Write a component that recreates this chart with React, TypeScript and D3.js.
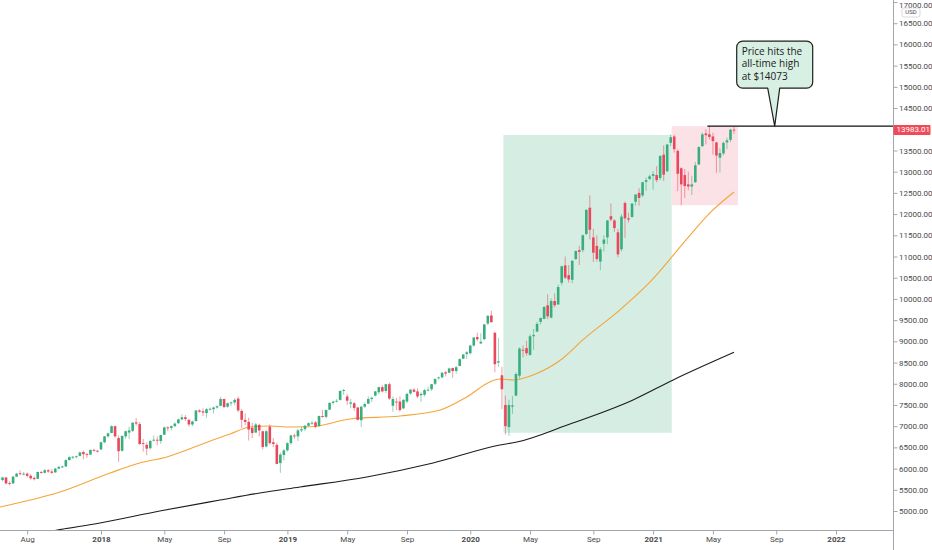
import React, { useEffect, useRef } from 'react';
import * as d3 from 'd3';

// weekly candles [open, high, low, close], first bar is the week of 2017-06-19
const firstWeek = '2017-06-19';

const candles2017 = [
  [5730, 5810, 5700, 5790], [5790, 5800, 5630, 5650], [5660, 5700, 5600, 5640], [5650, 5830, 5640, 5810],
  [5810, 5900, 5800, 5880], [5890, 5960, 5840, 5870], [5870, 5920, 5840, 5880], [5880, 5910, 5790, 5830],
  [5830, 5870, 5740, 5770], [5780, 5820, 5720, 5750], [5760, 5930, 5750, 5920], [5920, 5950, 5880, 5900],
  [5900, 5990, 5890, 5960], [5960, 5990, 5900, 5930], [5930, 5990, 5880, 5900], [5910, 6020, 5900, 6000],
  [6000, 6060, 5990, 6040], [6040, 6070, 6010, 6050], [6050, 6220, 6040, 6200], [6200, 6290, 6190, 6270],
  [6270, 6300, 6220, 6280], [6280, 6310, 6240, 6290], [6300, 6400, 6290, 6380], [6390, 6420, 6220, 6340],
  [6340, 6370, 6250, 6330], [6330, 6450, 6320, 6440], [6440, 6470, 6400, 6420], [6420, 6440, 6380, 6400],
];

const candles2018 = [
  [6450, 6640, 6440, 6620], [6620, 6770, 6600, 6760], [6760, 6850, 6730, 6830], [6840, 7020, 6830, 7000],
  [7000, 7010, 6730, 6760], [6720, 6780, 6160, 6410], [6420, 6780, 6400, 6770], [6760, 6900, 6700, 6880],
  [6850, 6990, 6700, 6900], [6890, 7100, 6860, 7080], [7090, 7190, 7010, 7060], [7050, 7100, 6560, 6580],
  [6600, 6700, 6400, 6580], [6560, 6620, 6310, 6470], [6480, 6680, 6450, 6650], [6660, 6780, 6640, 6680],
  [6680, 6760, 6550, 6660], [6650, 6800, 6580, 6790], [6800, 6990, 6790, 6970], [6970, 7000, 6880, 6950],
  [6960, 7020, 6900, 7000], [7000, 7090, 6980, 7060], [7070, 7180, 7050, 7160], [7160, 7280, 7140, 7210],
  [7210, 7260, 7120, 7170], [7150, 7170, 6990, 7040], [7040, 7130, 7000, 7110], [7120, 7380, 7110, 7370],
  [7370, 7400, 7320, 7340], [7350, 7420, 7240, 7320], [7310, 7420, 7200, 7400], [7400, 7440, 7370, 7410],
  [7400, 7460, 7300, 7440], [7440, 7490, 7410, 7470], [7480, 7690, 7470, 7640], [7640, 7650, 7430, 7450],
  [7460, 7560, 7430, 7540], [7540, 7580, 7480, 7560], [7560, 7660, 7500, 7620], [7650, 7700, 7330, 7370],
  [7360, 7400, 6960, 7150], [7150, 7300, 7020, 7100], [7100, 7200, 6660, 6920], [6960, 7080, 6720, 6840],
  [6850, 7080, 6840, 7040], [7030, 7060, 6760, 6900], [6880, 6900, 6450, 6510], [6520, 6920, 6500, 6880],
  [6990, 7040, 6560, 6600], [6620, 6720, 6500, 6580], [6560, 6610, 6100, 6110], [6130, 6380, 5900, 6330],
  [6320, 6460, 6190, 6430],
];

const candles2019 = [
  [6430, 6620, 6400, 6600], [6600, 6800, 6560, 6780], [6780, 6820, 6700, 6760], [6760, 6940, 6650, 6900],
  [6900, 6990, 6860, 6930], [6930, 7030, 6880, 7010], [7010, 7090, 7000, 7070], [7070, 7120, 7030, 7080],
  [7090, 7120, 6950, 6990], [7000, 7250, 6990, 7240], [7240, 7380, 7200, 7230], [7220, 7390, 7180, 7380],
  [7390, 7560, 7380, 7550], [7550, 7600, 7510, 7580], [7590, 7640, 7560, 7600], [7620, 7840, 7600, 7830],
  [7830, 7880, 7740, 7850], [7700, 7760, 7500, 7600], [7530, 7640, 7420, 7560], [7540, 7570, 7360, 7430],
  [7440, 7450, 7130, 7150], [7140, 7470, 6980, 7460], [7460, 7560, 7430, 7520], [7530, 7700, 7520, 7640],
  [7640, 7690, 7570, 7670], [7720, 7830, 7700, 7820], [7800, 7930, 7750, 7920], [7920, 7970, 7800, 7820],
  [7830, 8000, 7780, 7990], [7990, 8030, 7620, 7650], [7480, 7700, 7340, 7640], [7580, 7670, 7380, 7560],
  [7580, 7700, 7340, 7380], [7420, 7640, 7400, 7620], [7580, 7790, 7540, 7760], [7770, 7880, 7740, 7860],
  [7860, 7900, 7800, 7810], [7820, 7890, 7660, 7700], [7730, 7800, 7570, 7760], [7740, 7880, 7700, 7850],
  [7860, 7930, 7820, 7860], [7870, 7990, 7830, 7990], [8000, 8130, 7970, 8110], [8130, 8170, 8100, 8150],
  [8150, 8270, 8130, 8260], [8270, 8300, 8170, 8240], [8260, 8380, 8250, 8360], [8370, 8380, 8140, 8300],
  [8300, 8420, 8240, 8390], [8420, 8600, 8410, 8580], [8590, 8700, 8580, 8690], [8700, 8770, 8580, 8740],
];

const candles2020 = [
  [8720, 8920, 8690, 8900], [8900, 9100, 8870, 9090], [9100, 9200, 9000, 9050], [8950, 9190, 8940, 8990],
  [9050, 9410, 9030, 9400], [9420, 9620, 9380, 9600], [9610, 9720, 9450, 9450], [9200, 9230, 8270, 8460],
  [8500, 9080, 8400, 8530], [8200, 8400, 7400, 7870], [7500, 7720, 6800, 7000], [6980, 7620, 6770, 7500],
  [7460, 7710, 7290, 7490], [7720, 8270, 7710, 8230], [8190, 8860, 8130, 8830], [8800, 8900, 8620, 8780],
  [8840, 9010, 8660, 8720], [8680, 9170, 8660, 9120], [9120, 9290, 8800, 9150], [9230, 9460, 9220, 9410],
  [9460, 9560, 9400, 9550], [9530, 9830, 9520, 9810], [9850, 10110, 9520, 9590], [9560, 10010, 9540, 9950],
  [9950, 10130, 9800, 9850], [9870, 10340, 9860, 10280], [10380, 10780, 10320, 10770], [10790, 11000, 10470, 10500],
  [10560, 10800, 10380, 10460], [10450, 10910, 10370, 10900], [10940, 11140, 10920, 11130], [11150, 11250, 10800, 11110],
  [11150, 11520, 11100, 11500], [11530, 12110, 11500, 12100], [12150, 12440, 11400, 11630], [11450, 11650, 10870, 11090],
  [11250, 11500, 10880, 10940], [10880, 11220, 10680, 11170], [11300, 11500, 11120, 11400], [11450, 11860, 11290, 11850],
  [11950, 12250, 11830, 11870], [11850, 11880, 11580, 11670], [11570, 11650, 10980, 11050], [11170, 12000, 11120, 11940],
  [12260, 12300, 11440, 11900], [11900, 12030, 11800, 11870], [11930, 12250, 11920, 12250], [12290, 12470, 12200, 12460],
  [12500, 12610, 12200, 12380], [12440, 12760, 12400, 12750], [12760, 12860, 12550, 12800], [12830, 12930, 12800, 12890],
];

const candles2021 = [
  [12900, 13010, 12570, 12940], [12920, 13130, 12750, 12800], [12850, 13390, 12800, 13370], [13400, 13620, 12780, 12930],
  [13010, 13650, 12990, 13640], [13680, 13880, 13600, 13810], [13830, 13870, 13450, 13530], [13490, 13530, 12540, 12950],
  [13080, 13100, 12210, 12700], [12920, 13060, 12380, 12660], [12700, 13000, 12560, 12650], [12650, 12900, 12450, 12700],
  [12750, 13230, 12740, 13150], [13170, 13600, 13160, 13580], [13600, 13920, 13580, 13880], [13900, 14000, 13640, 13860],
  [13880, 14073, 13760, 13820], [13830, 13920, 13400, 13720], [13690, 13700, 12970, 13380], [13330, 13550, 12980, 13440],
  [13430, 13710, 13380, 13680], [13690, 13800, 13530, 13740], [13750, 14010, 13700, 13990], [13990, 14060, 13890, 13983.01],
];

// moving averages [date, price]
const orangeMA = [
  ['2017-06-14', 5094], ['2017-10-11', 5448], ['2018-01-19', 5896], ['2018-03-19', 6132],
  ['2018-05-12', 6274], ['2018-08-12', 6675], ['2018-09-15', 6816], ['2018-10-25', 6981],
  ['2018-12-03', 7005], ['2019-01-12', 6981], ['2019-02-21', 6985], ['2019-05-12', 7170],
  ['2019-08-19', 7241], ['2019-11-07', 7382], ['2019-12-30', 7689], ['2020-02-14', 8042],
  ['2020-03-05', 8113], ['2020-03-31', 8090], ['2020-05-10', 8208], ['2020-07-09', 8608],
  ['2020-08-17', 9033], ['2020-10-30', 9741], ['2020-12-29', 10401], ['2021-03-14', 11439],
  ['2021-04-27', 12028], ['2021-06-14', 12520],
];

const blackMA = [
  ['2017-06-14', 4290], ['2017-10-11', 4560], ['2017-12-30', 4717], ['2018-04-28', 5000],
  ['2018-08-26', 5259], ['2018-11-13', 5425], ['2019-02-01', 5566], ['2019-06-14', 5802],
  ['2019-10-24', 6132], ['2020-03-05', 6557], ['2020-04-08', 6627], ['2020-07-17', 7028],
  ['2020-11-25', 7618], ['2021-02-13', 8090], ['2021-06-14', 8740],
];

// highlighted ranges [startDate, endDate, lowPrice, highPrice]
const rallyBox = ['2020-03-12', '2021-02-10', 6845, 13865];
const rangeBox = ['2021-02-10', '2021-06-22', 12210, 14073];

const athPrice = 14073;
const lastPrice = 13983.01;
const calloutDate = '2021-09-03';
const calloutLines = ['Price hits the', 'all-time high', 'at $14073'];

const priceTicks = [5000, 5500, 6000, 6500, 7000, 7500, 8000, 8500, 9000, 9500, 10000, 10500, 11000,
  11500, 12000, 12500, 13000, 13500, 14500, 15000, 15500, 16000, 16500, 17000];

const timeTicks = [
  ['2017-08-07', 'Aug'], ['2018-01-01', '2018'], ['2018-05-07', 'May'], ['2018-09-03', 'Sep'],
  ['2019-01-07', '2019'], ['2019-05-06', 'May'], ['2019-09-02', 'Sep'], ['2020-01-06', '2020'],
  ['2020-05-04', 'May'], ['2020-09-07', 'Sep'], ['2021-01-04', '2021'], ['2021-05-03', 'May'],
  ['2021-09-06', 'Sep'], ['2022-01-03', '2022'],
];

const W = 932;
const H = 550;
const plotRight = 893;
const plotBottom = 530;
const upColor = '#38ad7d';
const downColor = '#e8485b';
const axisColor = '#a3a6ad';
const labelColor = '#4a4a4a';
const axisFont = 'Roboto, "Liberation Sans", sans-serif';

const App: React.FC = () => {
  const ref = useRef<SVGSVGElement>(null);

  useEffect(() => {
    const svg = d3.select(ref.current);
    svg.selectAll('*').remove();

    const parse = d3.utcParse('%Y-%m-%d');
    const x = d3.scaleUtc()
      .domain([parse('2018-01-01')!, parse('2022-01-03')!])
      .range([101, 836]);
    const y = d3.scaleLinear().domain([5000, 17000]).range([511, 2]);

    const start = parse(firstWeek)!;
    const candles = [...candles2017, ...candles2018, ...candles2019, ...candles2020, ...candles2021]
      .map((c, i) => ({
        date: d3.utcDay.offset(start, i * 7),
        open: c[0], high: c[1], low: c[2], close: c[3]
      }));

    svg.append('rect').attr('width', W).attr('height', H).attr('fill', '#ffffff');

    svg.append('defs').append('clipPath').attr('id', 'plot-area')
      .append('rect').attr('x', 0).attr('y', 0).attr('width', plotRight).attr('height', plotBottom);

    const plot = svg.append('g').attr('clip-path', 'url(#plot-area)');

    // Shaded ranges
    const drawBox = (b: any[], fill: string) => {
      plot.append('rect')
        .attr('x', x(parse(b[0])!))
        .attr('y', y(b[3]))
        .attr('width', x(parse(b[1])!) - x(parse(b[0])!))
        .attr('height', y(b[2]) - y(b[3]))
        .attr('fill', fill);
    };
    drawBox(rallyBox, '#d5ede2');
    drawBox(rangeBox, '#fbe2e6');

    // Moving averages
    const line = d3.line<any>()
      .x(d => x(parse(d[0])!))
      .y(d => y(d[1]))
      .curve(d3.curveMonotoneX);

    plot.append('path').datum(blackMA).attr('d', line)
      .attr('fill', 'none').attr('stroke', '#1c1c1c').attr('stroke-width', 1.1);
    plot.append('path').datum(orangeMA).attr('d', line)
      .attr('fill', 'none').attr('stroke', '#f4a53a').attr('stroke-width', 1.1);

    // Candles
    const bw = 2.6;
    const colorOf = (d: any) => (d.close >= d.open ? upColor : downColor);
    plot.append('g').selectAll('line')
      .data(candles)
      .join('line')
      .attr('x1', d => x(d.date))
      .attr('x2', d => x(d.date))
      .attr('y1', d => y(d.high))
      .attr('y2', d => y(d.low))
      .attr('stroke', colorOf)
      .attr('stroke-opacity', 0.6)
      .attr('stroke-width', 0.9);
    plot.append('g').selectAll('rect')
      .data(candles)
      .join('rect')
      .attr('x', d => x(d.date) - bw / 2)
      .attr('y', d => y(Math.max(d.open, d.close)))
      .attr('width', bw)
      .attr('height', d => Math.max(0.9, Math.abs(y(d.open) - y(d.close))))
      .attr('fill', colorOf);

    // All-time-high line
    const athCandle = candles.reduce((a, b) => (b.high > a.high ? b : a));
    plot.append('line')
      .attr('x1', x(athCandle.date) - 2)
      .attr('x2', plotRight)
      .attr('y1', y(athPrice))
      .attr('y2', y(athPrice))
      .attr('stroke', '#111')
      .attr('stroke-width', 1.4);

    // Callout
    const tx = x(parse(calloutDate)!);
    const ty = y(athPrice);
    const left = tx - 38, right = tx + 38, top = ty - 85, bottom = ty - 38, r = 6;
    const p = d3.path();
    p.moveTo(left + r, top);
    p.lineTo(right - r, top);
    p.arcTo(right, top, right, top + r, r);
    p.lineTo(right, bottom - r);
    p.arcTo(right, bottom, right - r, bottom, r);
    p.lineTo(tx + 5, bottom);
    p.lineTo(tx, ty);
    p.lineTo(tx - 7, bottom);
    p.lineTo(left + r, bottom);
    p.arcTo(left, bottom, left, bottom - r, r);
    p.lineTo(left, top + r);
    p.arcTo(left, top, left + r, top, r);
    p.closePath();
    svg.append('path').attr('d', p.toString())
      .attr('fill', '#d8efe3').attr('stroke', '#1f1f1f').attr('stroke-width', 1.2)
      .attr('stroke-linejoin', 'round');
    svg.append('g')
      .selectAll('text')
      .data(calloutLines)
      .join('text')
      .attr('x', left + 5)
      .attr('y', (_d, i) => top + 13.5 + i * 12.5)
      .attr('font-family', '"Open Sans", "Noto Sans", sans-serif')
      .attr('font-size', 10)
      .attr('fill', '#1a1a1a')
      .text(d => d);

    // Axis frame
    svg.append('line').attr('x1', 0).attr('x2', plotRight).attr('y1', plotBottom + 0.5).attr('y2', plotBottom + 0.5)
      .attr('stroke', axisColor);
    svg.append('line').attr('x1', plotRight + 0.5).attr('x2', plotRight + 0.5).attr('y1', 0).attr('y2', H)
      .attr('stroke', axisColor);

    // X axis
    const gx = svg.append('g')
      .attr('transform', `translate(0,${plotBottom + 0.5})`)
      .call(d3.axisBottom(x)
        .tickValues(timeTicks.map(t => parse(t[0])!))
        .tickFormat((_d, i) => timeTicks[i][1])
        .tickSize(4)
        .tickSizeOuter(0));
    gx.select('.domain').remove();
    gx.selectAll('.tick line').attr('stroke', axisColor);
    gx.selectAll('.tick text')
      .attr('fill', labelColor)
      .attr('font-family', axisFont)
      .attr('font-size', 8)
      .attr('font-weight', (_d, i) => (/^\d/.test(timeTicks[i][1]) ? 700 : 400))
      .attr('y', 6);

    // Y axis
    const gy = svg.append('g')
      .attr('transform', `translate(${plotRight + 0.5},0)`)
      .call(d3.axisRight(y)
        .tickValues(priceTicks)
        .tickFormat(d => (+d).toFixed(2))
        .tickSize(4)
        .tickSizeOuter(0));
    gy.select('.domain').remove();
    gy.selectAll('.tick line').attr('stroke', axisColor);
    gy.selectAll('.tick text')
      .attr('fill', labelColor)
      .attr('font-family', axisFont)
      .attr('font-size', 8)
      .attr('x', 5.5)
      // keep the topmost label inside the page
      .attr('y', (d: any) => (d === 17000 ? 2.5 : 0));

    // USD tag
    svg.append('rect').attr('x', 902).attr('y', 8).attr('width', 18).attr('height', 9).attr('rx', 2)
      .attr('fill', '#fff').attr('stroke', '#d0d2d6').attr('stroke-width', 0.8);
    svg.append('text').attr('x', 911).attr('y', 12.8).attr('text-anchor', 'middle')
      .attr('dominant-baseline', 'middle').attr('font-family', axisFont).attr('font-size', 6)
      .attr('fill', labelColor).text('USD');

    // Last price label
    const ly = y(lastPrice);
    svg.append('rect').attr('x', plotRight + 0.5).attr('y', ly - 5).attr('width', 37).attr('height', 10)
      .attr('rx', 1).attr('fill', '#ee4a5a');
    svg.append('text').attr('x', plotRight + 3.5).attr('y', ly).attr('dominant-baseline', 'middle')
      .attr('font-family', axisFont).attr('font-size', 8).attr('fill', '#ffffff')
      .text(lastPrice.toFixed(2));
  }, []);

  return (
    <svg
      ref={ref}
      width={W}
      height={H}
      style={{ position: 'absolute', left: 0, top: 0, display: 'block' }}
    />
  );
};

export default App;
